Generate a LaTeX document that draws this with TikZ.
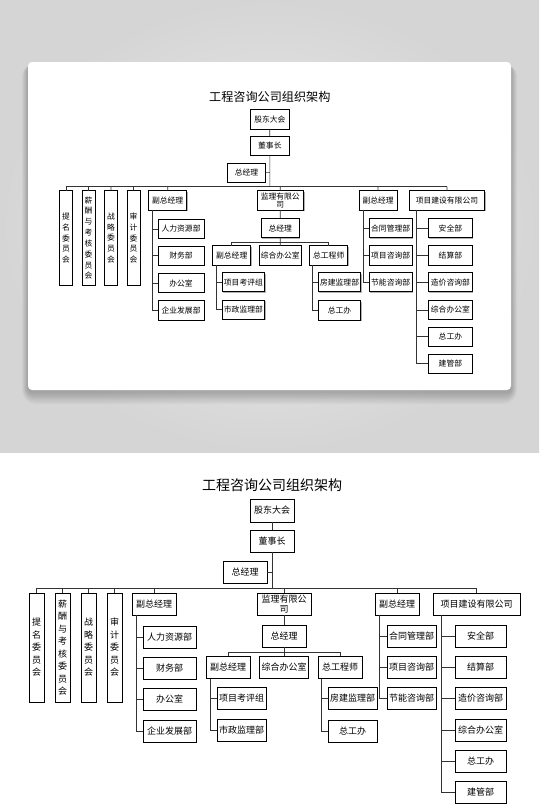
\documentclass[tikz,border=0pt]{standalone}
\usepackage{fontspec}
\setmainfont{Noto Sans CJK SC}
\usetikzlibrary{shadows}
\definecolor{bgedge}{HTML}{D5D5D5}
\definecolor{bgmid}{HTML}{EDEDED}
\tikzset{
  unit/.style={draw=black, fill=white, line width=0.7pt, inner sep=0pt,
    minimum height=22, align=center, font=\fontsize{9}{10}\selectfont,
    drop shadow={shadow xshift=0.9pt, shadow yshift=-0.9pt, fill=black, opacity=.3}},
  board/.style={unit, minimum width=15, minimum height=109, font=\fontsize{9}{12.5}\selectfont},
  link/.style={draw=black!80, line width=0.7pt},
}
\newcommand\drawchart{%
  \node[font=\fontsize{14}{16}\selectfont] (title) at (272,-485) {工程咨询公司组织架构};
  \node[unit, minimum width=44, minimum height=23] (gd) at (272,-510.5) {股东大会};
  \node[unit, minimum width=44] (dsz) at (272,-541) {董事长};
  \node[unit, minimum width=44] (zjl) at (245,-572) {总经理};
  \coordinate (bus) at (0,-588);
  \node[board] (tm) at (36.5,-647.5) {提\\名\\委\\员\\会};
  \node[board] (xc) at (62.5,-647.5) {薪\\酬\\与\\考\\核\\委\\员\\会};
  \node[board] (zl) at (88.5,-647.5) {战\\略\\委\\员\\会};
  \node[board] (sj) at (114.5,-647.5) {审\\计\\委\\员\\会};
  \node[unit, minimum width=44] (fza) at (154,-604) {副总经理};
  \node[unit, minimum width=54] (jl) at (284,-604) {监理有限公\\司};
  \node[unit, minimum width=44] (fzc) at (397,-604) {副总经理};
  \node[unit, minimum width=87] (xm) at (476.5,-604) {项目建设有限公司};
  \node[unit, minimum width=44] (zjlb) at (284,-636) {总经理};
  \node[unit, minimum width=44] (fzb) at (228,-667.5) {副总经理};
  \node[unit, minimum width=49] (zhb) at (284,-667.5) {综合办公室};
  \node[unit, minimum width=44] (zgc) at (340,-667.5) {总工程师};
  \draw[link] (gd) -- (dsz);
  \draw[link] (dsz) -- (dsz |- bus);
  \draw[link] (zjl) -- (zjl -| dsz);
  \draw[link] (tm.north |- bus) -- (xm.north |- bus);
  \foreach \n in {tm,xc,zl,sj,fza,jl,fzc,xm}
    \draw[link] (\n) -- (\n |- bus);
  \draw[link] (jl) -- (zjlb);
  \draw[link] (zjlb) -- (zhb);
  \draw[link] (fzb.north) |- ([yshift=-5]zjlb.south) -| (zgc.north);
  \foreach \t/\y [count=\i] in {人力资源部/637,财务部/668,办公室/699.5,企业发展部/731}{
    \node[unit, minimum width=53] (fa\i) at (169.5,-\y) {\t};
    \draw[link] ([xshift=5]fza.south west) |- (fa\i.west);
  }
  \foreach \t/\y [count=\i] in {项目考评组/698.5,市政监理部/730}{
    \node[unit, minimum width=49] (fb\i) at (241.5,-\y) {\t};
    \draw[link] ([xshift=5]fzb.south west) |- (fb\i.west);
  }
  \foreach \t/\y [count=\i] in {房建监理部/698.5,总工办/731}{
    \node[unit, minimum width=49] (zg\i) at (352.5,-\y) {\t};
    \draw[link] ([xshift=4]zgc.south west) |- (zg\i.west);
  }
  \foreach \t/\y [count=\i] in {合同管理部/636,项目咨询部/667.5,节能咨询部/698.5}{
    \node[unit, minimum width=49] (fc\i) at (411.5,-\y) {\t};
    \draw[link] ([xshift=5]fzc.south west) |- (fc\i.west);
  }
  \foreach \t/\y [count=\i] in {安全部/636,结算部/667.5,造价咨询部/698.5,综合办公室/730.5,总工办/761.5,建管部/792.5}{
    \node[unit, minimum width=51] (xm\i) at (480.5,-\y) {\t};
    \draw[link] ([xshift=9]xm.south west) |- (xm\i.west);
  }
}

\begin{document}
\begin{tikzpicture}[x=1pt,y=1pt]
  \useasboundingbox (0,0) rectangle (539,-812);
  \fill[white] (0,0) rectangle (539,-812);
  \shade[inner color=bgmid, outer color=bgedge] (0,0) rectangle (539,-452);
  \foreach \k in {1,...,10}
    \fill[black, opacity=0.025, rounded corners=4+\k]
      (28-0.6*\k,-66+0.3*\k) rectangle (511+0.6*\k,-392-1.2*\k);
  \fill[white, rounded corners=4] (28,-62) rectangle (511,-390);
  \begin{scope}[shift={(34.3,322.7)}, scale=0.866, transform shape, name prefix=mini-]
    \drawchart
  \end{scope}
  \drawchart
\end{tikzpicture}
\end{document}
